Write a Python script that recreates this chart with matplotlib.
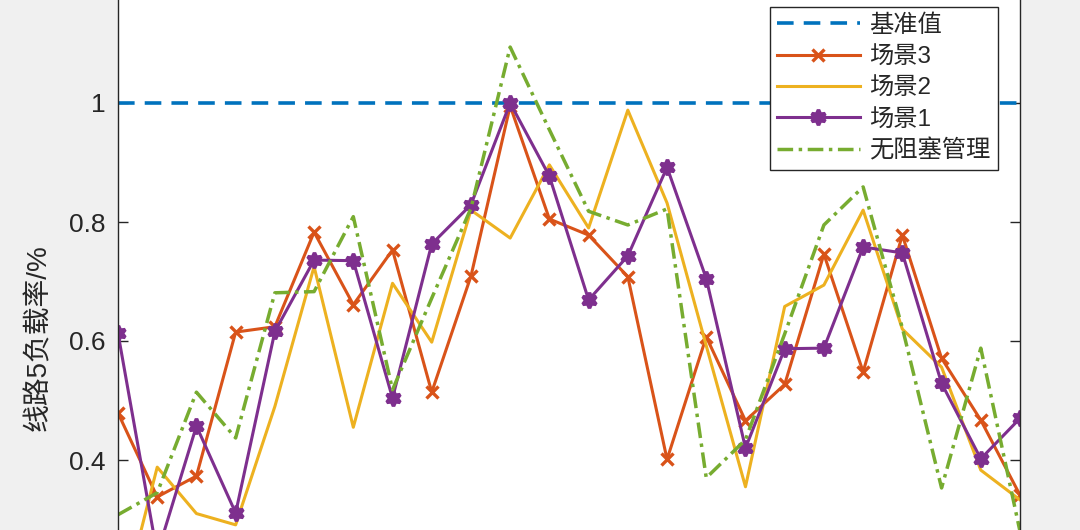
import matplotlib
matplotlib.use("Agg")
import matplotlib.pyplot as plt
import numpy as np

plt.rcParams['font.family'] = ['Liberation Sans', 'Noto Sans CJK SC', 'DejaVu Sans']

hours = list(range(1, 25))
baseline = [1.0] * 24
scene3 = [0.479, 0.338, 0.373, 0.615, 0.624, 0.783, 0.661, 0.753, 0.514, 0.709,
          0.995, 0.805, 0.778, 0.708, 0.401, 0.607, 0.466, 0.527, 0.746, 0.548,
          0.778, 0.571, 0.467, 0.341]
scene2 = [0.13, 0.388, 0.31, 0.291, 0.49, 0.725, 0.455, 0.697, 0.598, 0.82,
          0.773, 0.896, 0.79, 0.988, 0.832, 0.592, 0.355, 0.658, 0.694, 0.82,
          0.62, 0.556, 0.383, 0.333]
scene1 = [0.613, 0.242, 0.457, 0.311, 0.616, 0.736, 0.735, 0.504, 0.763, 0.829,
          1.0, 0.877, 0.669, 0.743, 0.892, 0.705, 0.42, 0.587, 0.588, 0.758,
          0.748, 0.529, 0.402, 0.47]
nomgmt = [0.308, 0.345, 0.514, 0.437, 0.681, 0.683, 0.809, 0.518, 0.672, 0.823,
          1.094, 0.955, 0.818, 0.795, 0.822, 0.37, 0.434, 0.612, 0.795, 0.859,
          0.622, 0.353, 0.588, 0.28]
labels = ['基准值', '场景3', '场景2', '场景1', '无阻塞管理']
yticks = [0.4, 0.6, 0.8, 1.0]
yticklabels = ['0.4', '0.6', '0.8', '1']

W, H = 1080, 530
fig = plt.figure(figsize=(W / 100, H / 100), dpi=100, facecolor='#f0f0f0')
# axes: left x=118..1020 px; y=1.0 at 103 px, 595 px per unit; ylim 0.2..1.2
ax_top_px = 103 - 0.2 * 595
ax_bot_px = 103 + 0.8 * 595
ax = fig.add_axes([118 / W, (H - ax_bot_px) / H, 902 / W, (ax_bot_px - ax_top_px) / H])
ax.set_facecolor('white')

ax.plot(hours, baseline, color='#0072BD', lw=2.6, dashes=(4.6, 2.8), label=labels[0])
ax.plot(hours, scene3, color='#D95319', lw=2.2, marker='x', ms=9, mew=2.4, label=labels[1])
ax.plot(hours, scene2, color='#EDB120', lw=2.2, label=labels[2])
ax.plot(hours, scene1, color='#7E2F8E', lw=2.2, marker=(6, 1, 0), ms=11, mew=2.6,
        mfc='#7E2F8E', mec='#7E2F8E', label=labels[3])
ax.plot(hours, nomgmt, color='#77AC30', lw=2.5, dashes=(4.5, 1.6, 1.0, 1.6), label=labels[4])

ax.set_xlim(1, 24)
ax.set_ylim(0.2, 1.2)
ax.set_yticks(yticks)
ax.set_yticklabels(yticklabels)
ax.tick_params(axis='both', direction='in', length=7, width=1, colors='#262626',
               labelsize=19, right=True, top=True, pad=9)
ax.tick_params(axis='x', labelbottom=False)
for s in ax.spines.values():
    s.set_color('#262626')
    s.set_linewidth(1)

ax.set_ylabel('线路5负载率/%', fontsize=20, color='#262626')
ax.yaxis.set_label_coords((52 - 118) / 902, (ax_bot_px - 338) / (ax_bot_px - ax_top_px))

leg = ax.legend(loc='upper right', bbox_to_anchor=(998 / W, (H - 7) / H),
                bbox_transform=fig.transFigure, fontsize=17.5, frameon=True,
                fancybox=False, edgecolor='#262626', framealpha=1,
                handlelength=3.4, handletextpad=0.4, labelspacing=0.38,
                borderpad=0.3, borderaxespad=0)
leg.get_frame().set_linewidth(1)
for t in leg.get_texts():
    t.set_color('#262626')

fig.savefig('out.png', dpi=100, facecolor=fig.get_facecolor())
